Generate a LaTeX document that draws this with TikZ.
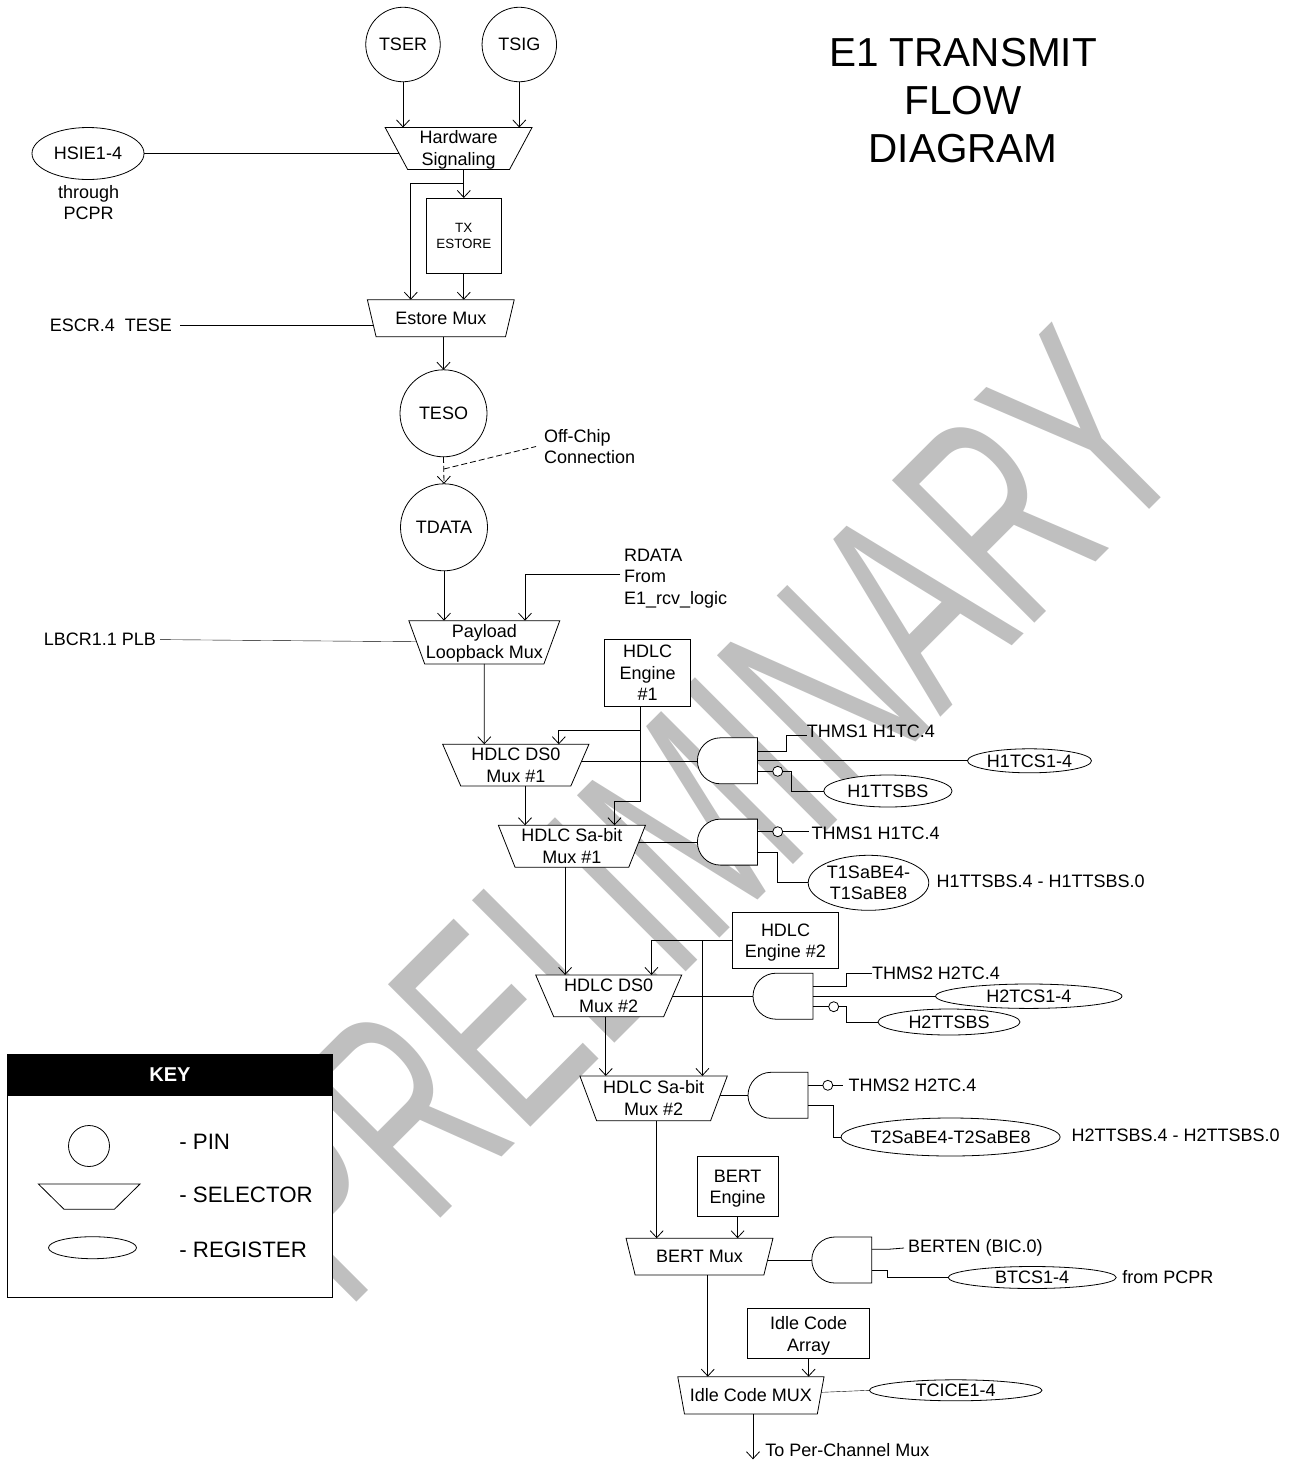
\documentclass[tikz,border=0pt]{standalone}
\usepackage{fontspec}
\setmainfont{Liberation Sans}
\usetikzlibrary{arrows.meta,calc,backgrounds,shapes.geometric}

\begin{document}
\begin{tikzpicture}[
  x=1pt, y=-1pt,
  font=\fontsize{18}{21.7}\selectfont,
  line width=0.8pt,
  >={Straight Barb[length=7pt,width=13pt]},
  every node/.style={outer sep=0pt},
  pin/.style   ={circle, draw, fill=white, inner sep=0pt},
  mux/.style   ={trapezium, trapezium stretches=true, shape border rotate=180, trapezium angle=67,
                 draw, fill=white, align=center, inner sep=0pt},
  blk/.style   ={draw, fill=white, align=center, inner sep=0pt},
  reg/.style   ={ellipse, draw, fill=white, align=center, inner xsep=-30pt, inner ysep=-6pt},
  lbl/.style   ={anchor=west, align=left, inner sep=0pt},
  lnk/.style   ={->},
  bub/.style   ={circle, draw, fill=white, inner sep=0pt, minimum size=10pt},
  gate/.style  ={minimum width=60pt, minimum height=46pt, inner sep=0pt,
                 append after command={\pgfextra{\draw[fill=white] (\tikzlastnode.south east) -- (\tikzlastnode.north east)
                   -- ++(-37pt,0) arc[start angle=90,end angle=270,x radius=23pt,y radius=23pt] -- cycle;}}},
]
\useasboundingbox (0,0) rectangle (1291,1460);

%% ---------------- title ----------------
\node[align=center, font=\fontsize{40.5}{48}\selectfont] (title) at (963,101) {E1 TRANSMIT\\FLOW\\DIAGRAM};

%% ---------------- input chain ----------------
\node[pin, minimum size=74.5pt] (tser) at (403,44.5) {TSER};
\node[pin, minimum size=74.5pt] (tsig) at (519.3,44.5) {TSIG};
\node[mux, minimum width=147pt, minimum height=42pt] (hwsig) at (458.6,148.5) {\strut Hardware\\Signaling};
\node[reg, minimum width=112pt, minimum height=52pt] (hsie) at (88,153.5) {HSIE1-4};
\node[align=center, inner sep=0pt] (pcpr) at (88.6,202.5) {through\\PCPR};
\node[blk, minimum width=74.5pt, minimum height=75pt, font=\fontsize{13.4}{16}\selectfont] (txest) at (463.8,235.5) {TX\\ESTORE};
\node[mux, trapezium angle=64, minimum width=147pt, minimum height=37pt] (estmux) at (440.8,318.2) {Estore Mux};
\node[lbl, anchor=east, inner xsep=8pt] (escr) at (180,325) {ESCR.4~~TESE};
\node[pin, minimum size=87pt] (teso) at (443.5,413.3) {TESO};
\node[pin, minimum size=87pt] (tdata) at (444,527.3) {TDATA};
\node[lbl, inner xsep=8pt] (offchip) at (536,446.5) {Off-Chip\\Connection};
\node[lbl, inner xsep=4pt] (rdata) at (620,578.5) {RDATA\\From\\E1\_rcv\_logic};
\node[mux, trapezium angle=69, minimum width=151pt, minimum height=43.3pt] (payload) at (484.3,642.3) {\strut Payload\\Loopback Mux};
\node[lbl, anchor=east, inner xsep=4pt] (lbcr) at (160,639.6) {LBCR1.1 PLB};

%% ---------------- HDLC 1 ----------------
\node[blk, minimum width=85.8pt, minimum height=67.4pt] (eng1) at (647.7,673) {HDLC\\Engine\\\#1};
\node[mux, minimum width=146.3pt, minimum height=41.7pt] (ds1) at (515.8,765.1) {HDLC DS0\\Mux \#1};
\node[mux, minimum width=147.2pt, minimum height=42pt] (sa1) at (571.9,846.3) {HDLC Sa-bit\\Mux \#1};
\node[gate] (gate1) at (727.4,760.8) {};
\node[gate] (gate2) at (727.4,842.1) {};
\node[bub] (bub1) at (777.7,771.3) {};
\node[bub] (bub2) at (777.7,831.7) {};
\node[lbl] (thms1a) at (806.8,731) {THMS1 H1TC.4};
\node[lbl, inner xsep=3pt] (thms1b) at (808.6,833) {THMS1 H1TC.4};
\node[reg, minimum width=124pt, minimum height=24pt] (h1tcs) at (1029.5,760.8) {H1TCS1-4};
\node[reg, minimum width=128.3pt, minimum height=32pt] (h1tts) at (887.9,791) {H1TTSBS};
\node[reg, minimum width=120.6pt, minimum height=55pt] (t1sa) at (868.5,882.8) {T1SaBE4-\\T1SaBE8};
\node[lbl] (sel1) at (936.6,881) {H1TTSBS.4 - H1TTSBS.0};

%% ---------------- HDLC 2 ----------------
\node[blk, minimum width=106.3pt, minimum height=55.3pt] (eng2) at (785.5,940.3) {\rule{0pt}{17pt}HDLC\\Engine \#2};
\node[mux, minimum width=146.1pt, minimum height=41.7pt] (ds2) at (608.7,995.8) {HDLC DS0\\Mux \#2};
\node[mux, minimum width=147.6pt, minimum height=44.7pt] (sa2) at (653.6,1098.3) {HDLC Sa-bit\\Mux \#2};
\node[gate] (gate3) at (783,996.2) {};
\node[gate] (gate4) at (778,1095.3) {};
\node[bub] (bub3) at (833.7,1006.7) {};
\node[bub] (bub4) at (827.8,1085.3) {};
\node[lbl] (thms2a) at (872,973) {THMS2 H2TC.4};
\node[lbl, inner xsep=6pt] (thms2b) at (842.5,1085.3) {THMS2 H2TC.4};
\node[reg, minimum width=186.3pt, minimum height=24.4pt] (h2tcs) at (1028.8,996.2) {H2TCS1-4};
\node[reg, minimum width=142pt, minimum height=26pt] (h2tts) at (949,1022) {H2TTSBS};
\node[reg, minimum width=219pt, minimum height=38pt] (t2sa) at (950.6,1137) {T2SaBE4-T2SaBE8};
\node[lbl] (sel2) at (1071.5,1135) {H2TTSBS.4 - H2TTSBS.0};

%% ---------------- BERT and idle code ----------------
\node[blk, minimum width=81pt, minimum height=60.7pt] (berteng) at (737.6,1186.3) {\rule{0pt}{17pt}BERT\\Engine};
\node[mux, trapezium angle=64, minimum width=147pt, minimum height=36.7pt] (bertmux) at (699.5,1256.6) {BERT Mux};
\node[gate] (gate5) at (841.8,1260) {};
\node[lbl, inner xsep=4pt] (berten) at (904,1248) {BERTEN (BIC.0)};
\node[reg, minimum width=168pt, minimum height=22pt] (btcs) at (1032.2,1277.5) {BTCS1-4};
\node[lbl] (frompcpr) at (1122.4,1277) {from PCPR};
\node[blk, minimum width=122.5pt, minimum height=50pt] (idlearr) at (808.6,1333.7) {\rule{0pt}{17pt}Idle Code\\Array};
\node[mux, trapezium angle=65, minimum width=146.5pt, minimum height=37.3pt] (idlemux) at (750.9,1395.3) {Idle Code MUX};
\node[reg, minimum width=172.6pt, minimum height=21pt] (tcice) at (955.7,1390.3) {TCICE1-4};
\node[lbl] (perch) at (765.3,1450) {To Per-Channel Mux};
\coordinate (perend) at (753,1459.3);

%% ---------------- connectors ----------------
\draw[lnk] (tser) -- (tser |- hwsig.north);
\draw[lnk] (tsig) -- (tsig |- hwsig.north);
\draw[lnk] (txest |- hwsig.south) -- (txest.north);
\draw[lnk] (txest |- hwsig.south) ++(0,13.8) -- ++(-53,0) -- (410.8,0 |- estmux.north);
\draw[lnk] (txest.south) -- (txest |- estmux.north);
\draw[lnk] (teso |- estmux.south) -- (teso.north);
\draw[lnk, dash pattern=on 6pt off 3pt] (teso.south) -- (tdata.north);
\draw[dash pattern=on 6pt off 3pt] (443.8,469) -- (offchip.west);
\draw[lnk] (tdata.south) -- (tdata |- payload.north);
\draw[lnk] ($(rdata.west)+(0,-4.5)$) -| ($(payload.north)+(40.7,0)$);
\draw[lnk] (payload.south) -- (payload |- ds1.north);
\draw[lnk] (eng1.south -| 640.2,0) -- ++(0,94.3) -| ($(sa1.north)+(42.6,0)$);
\draw[lnk] (640.2,730.7) -| ($(ds1.north)+(43,0)$);
\draw[lnk] (525,0 |- ds1.south) -- (525,0 |- sa1.north);
\draw[lnk] (565.1,0 |- sa1.south) -- (565.1,0 |- ds2.north);
\draw[lnk] (eng2.west) -| ($(ds2.north)+(42.7,0)$);
\draw[lnk] (702.4,0 |- eng2.west) -- (702.4,0 |- sa2.north);
\draw[lnk] (605.8,0 |- ds2.south) -- (605.8,0 |- sa2.north);
\draw[lnk] (656.7,0 |- sa2.south) -- (656.7,0 |- bertmux.north);
\draw[lnk] (berteng.south) -- (berteng |- bertmux.north);
\draw[lnk] (707.8,0 |- bertmux.south) -- (707.8,0 |- idlemux.north);
\draw[lnk] (idlearr.south) -- (idlearr |- idlemux.north);
\draw[lnk] (perend |- idlemux.south) -- (perend);

%% gate 1 and 2
\draw (gate1.east) -- (h1tcs.west);
\draw (gate1.east) ++(0,-9.8) -- ++(29,0) |- ($(thms1a.west)+(0,4)$);
\draw (gate1.east |- bub1) -- (bub1);
\draw (bub1.east) -- ++(8.6,0) |- (h1tts.west);
\draw (gate2.east |- bub2) -- (bub2);
\draw (bub2.east) -- (bub2.east -| thms1b.west);
\draw (gate2.east) ++(0,10.2) -- ++(20.3,0) |- (t1sa.west);
%% gate 3 and 4
\draw (gate3.east) -- (h2tcs.west);
\draw (gate3.east) ++(0,-9.9) -- ++(33,0) |- (thms2a.west);
\draw (gate3.east |- bub3) -- (bub3);
\draw (bub3.east) -- ++(7.3,0) |- (h2tts.west);
\draw (gate4.east |- bub4) -- (bub4);
\draw (bub4.east) -- (thms2b.west);
\draw (gate4.east) ++(0,10.4) -- ++(25.7,0) |- (t2sa.west);
%% gate 5
\draw (gate5.east) ++(0,-10.7) -- ++(16,0) -- (berten.west);
\draw (gate5.east) ++(0,10) -- ++(16,0) |- (btcs.west);

%% ---------------- key ----------------
\node[draw, fill=white, minimum width=324.6pt, minimum height=243pt] (keybox) at (170,1175.8) {};
\node[fill=black, text=white, inner sep=0pt, minimum width=324.6pt, minimum height=41.4pt,
  font=\fontsize{20}{24}\selectfont\bfseries] (keyhead) at (170,1075) {KEY};
\node[pin, minimum size=41pt] (keypin) at (89,1146) {};
\node[mux, inner sep=1pt, trapezium angle=63, minimum width=101.7pt, minimum height=25.3pt] (keymux) at (89.2,1196.6) {};
\node[reg, inner sep=1pt, minimum width=88pt, minimum height=22pt] (keyreg) at (92.5,1247.7) {};
\node[lbl, font=\fontsize{22.3}{26}\selectfont] (keyt1) at (179.3,1142) {- PIN};
\node[lbl, font=\fontsize{22.3}{26}\selectfont] (keyt2) at (179.3,1195) {- SELECTOR};
\node[lbl, font=\fontsize{22.3}{26}\selectfont] (keyt3) at (179.3,1250) {- REGISTER};

%% ---------------- lines behind the shapes ----------------
\begin{scope}[on background layer]
  \begin{scope}[cm={1.2587,1.2587,-2.07,2.07,(346.1,1312.2)}]
    \node[transform shape, anchor=base west, inner sep=0pt, text=black!25,
      font=\fontsize{100}{100}\selectfont] (stamp) at (0,0) {PRELIMINARY};
  \end{scope}
  \draw (hsie.east) -- (hsie.east -| hwsig.center);
  \draw (escr.east) -- (escr.east -| estmux.center);
  \draw (lbcr.east) -- (payload.center);
  \draw (gate1.west) -- (gate1.west -| ds1.center);
  \draw (gate2.west) -- (gate2.west -| sa1.center);
  \draw (gate3.west) -- (gate3.west -| ds2.center);
  \draw (gate4.west) -- (gate4.west -| sa2.center);
  \draw (gate5.west) -- (gate5.west -| bertmux.center);
  \draw (tcice.west) -- (idlemux.center);
\end{scope}

\end{tikzpicture}
\end{document}
